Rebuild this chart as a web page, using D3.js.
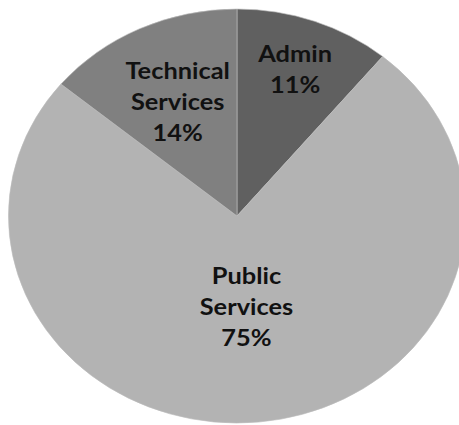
<!DOCTYPE html>
<html>
<head>
<meta charset="utf-8">
<script src="https://cdn.jsdelivr.net/npm/d3@7"></script>
<style>
  html, body { margin: 0; padding: 0; background: #ffffff; }
  svg { display: block; }
</style>
</head>
<body>
<div id="chart"></div>
<script>
// Staff split by department (share of total, %)
const categories = ["Admin", "Public Services", "Technical Services"];
const shares = [11, 75, 14];
const sliceColors = ["#606060", "#b3b3b3", "#808080"];

// Label line breaks and radial placement (fraction of radius)
const labelLines = [["Admin"], ["Public", "Services"], ["Technical", "Services"]];
const labelRadius = [0.75, 0.44, 0.61];

const width = 459, height = 425;
const cx = 237, cy = 216, r = 207;
const stretchX = 1.104;

const svg = d3.select("#chart").append("svg")
  .attr("width", width)
  .attr("height", height);

const g = svg.append("g")
  .attr("transform", `translate(${cx},${cy}) scale(${stretchX},1)`);

const pie = d3.pie().sort(null).value(d => d.value);
const data = categories.map((c, i) => ({ name: c, value: shares[i], i }));
const arcs = pie(data);

const arc = d3.arc().innerRadius(0).outerRadius(r);

g.selectAll("path.slice")
  .data(arcs)
  .enter().append("path")
  .attr("class", "slice")
  .attr("d", arc)
  .attr("fill", d => sliceColors[d.data.i])
  .attr("stroke", "#bcbcbc")
  .attr("stroke-width", 0.6);

const total = d3.sum(shares);
const fontSize = 23;
const lineH = 31;

const labels = g.selectAll("g.label")
  .data(arcs)
  .enter().append("g")
  .attr("class", "label")
  .attr("transform", d => {
    const lr = r * labelRadius[d.data.i];
    const [x, y] = d3.arc().innerRadius(lr).outerRadius(lr).centroid(d);
    return `translate(${x},${y})`;
  });

labels.each(function(d) {
  const lines = labelLines[d.data.i].concat([Math.round(d.data.value / total * 100) + "%"]);
  const n = lines.length;
  const t = d3.select(this).append("text")
    .attr("text-anchor", "middle")
    .attr("font-family", "Lato, 'Open Sans', sans-serif")
    .attr("font-weight", "bold")
    .attr("font-size", fontSize)
    .attr("fill", "#111111");
  lines.forEach((ln, k) => {
    t.append("tspan")
      .attr("x", 0)
      .attr("y", (k - (n - 1) / 2) * lineH + fontSize * 0.35)
      .text(ln);
  });
});
</script>
</body>
</html>
